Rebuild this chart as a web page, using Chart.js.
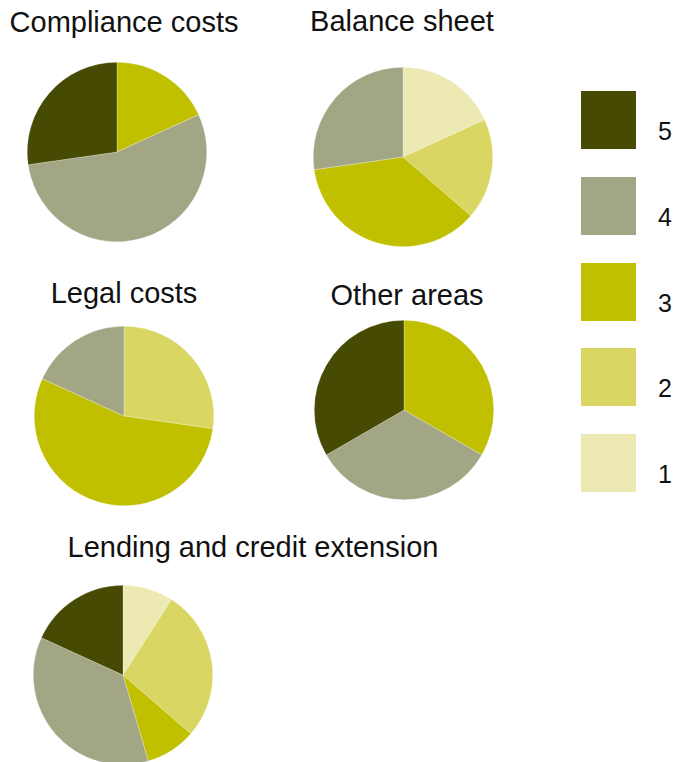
<!DOCTYPE html>
<html lang="en">
<head>
  <meta charset="UTF-8" />
  <title>Survey ratings by area</title>
  <script src="https://cdn.jsdelivr.net/npm/chart.js"></script>
  <style>
    html, body { margin: 0; padding: 0; background: #fff; overflow: hidden; }
    body { width: 680px; height: 762px; position: relative; font-family: "Liberation Sans", Arial, Helvetica, sans-serif; color: #111; }
    .title { position: absolute; font-size: 29px; line-height: 29px; white-space: nowrap; transform: translateX(-50%); }
    .pie { position: absolute; width: 184px; height: 184px; }
    .box { position: absolute; width: 55px; height: 58px; }
    .lab { position: absolute; font-size: 25px; line-height: 25px; }
  </style>
</head>
<body>
<script>
// rating levels, in slice order (clockwise from 12 o'clock)
const ratings = ['1', '2', '3', '4', '5'];
const ratingColors = ['#ece9b2', '#d9d663', '#c0bf00', '#a3a684', '#474a03'];

// number of responses per rating, one array per area
const compliance = [0, 0, 2, 6, 3];
const balance    = [2, 2, 4, 3, 0];
const legal      = [0, 3, 6, 2, 0];
const other      = [0, 0, 1, 1, 1];
const lending    = [1, 3, 1, 4, 2];

// area name, data, pie centre, title centre x / top
const panels = [
  { name: 'Compliance costs', data: compliance, cx: 117, cy: 152, tx: 124, ty: 8 },
  { name: 'Balance sheet', data: balance, cx: 403, cy: 157, tx: 402, ty: 7 },
  { name: 'Legal costs', data: legal, cx: 124, cy: 416, tx: 124, ty: 279 },
  { name: 'Other areas', data: other, cx: 404, cy: 410, tx: 407, ty: 281 },
  { name: 'Lending and credit extension', data: lending, cx: 123, cy: 675, tx: 253, ty: 533 }
];

panels.forEach(p => {
  const t = document.createElement('div');
  t.className = 'title';
  t.style.left = p.tx + 'px';
  t.style.top = p.ty + 'px';
  t.textContent = p.name;
  document.body.appendChild(t);

  const wrap = document.createElement('div');
  wrap.className = 'pie';
  wrap.style.left = (p.cx - 92) + 'px';
  wrap.style.top = (p.cy - 92) + 'px';
  const cv = document.createElement('canvas');
  wrap.appendChild(cv);
  document.body.appendChild(wrap);

  new Chart(cv, {
    type: 'pie',
    data: {
      labels: ratings,
      datasets: [{
        data: p.data,
        backgroundColor: ratingColors,
        borderColor: 'rgba(255,255,255,0.5)',
        borderWidth: 0.5,
        hoverOffset: 0
      }]
    },
    options: {
      responsive: true,
      maintainAspectRatio: false,
      animation: false,
      layout: { padding: 2 },
      plugins: { legend: { display: false }, tooltip: { enabled: false } },
      events: []
    }
  });
});

// legend, highest rating on top
const legendTops = [91, 177, 263, 348, 434];
ratings.slice().reverse().forEach((r, i) => {
  const b = document.createElement('div');
  b.className = 'box';
  b.style.left = '581px';
  b.style.top = legendTops[i] + 'px';
  b.style.background = ratingColors[ratings.indexOf(r)];
  document.body.appendChild(b);

  const l = document.createElement('div');
  l.className = 'lab';
  l.style.left = '658px';
  l.style.top = (legendTops[i] + 28) + 'px';
  l.textContent = r;
  document.body.appendChild(l);
});
</script>
</body>
</html>
